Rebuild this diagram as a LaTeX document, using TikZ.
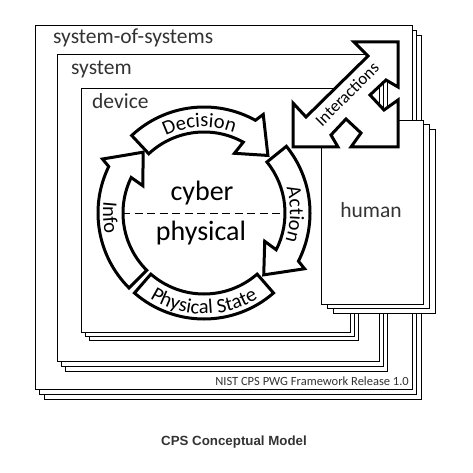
\documentclass[tikz,border=0pt]{standalone}
\usepackage{fontspec}
\setmainfont{Carlito}
\newfontfamily\capfont{Liberation Sans}
\usetikzlibrary{decorations.text}
\newcommand\arcfont{\fontsize{20.5}{20}\selectfont}

\begin{document}
\begin{tikzpicture}[x=1pt,y=1pt,every node/.style={inner sep=0pt},
  frame/.style={draw,fill=white,line width=1.1pt,anchor=north west},
  blk/.style={draw,fill=white,line width=3pt,line join=miter},
  lbl/.style={text=black!80,font=\fontsize{21.5}{24}\selectfont,anchor=base west},
  arclbl/.style={decorate,decoration={text along path,text align=center,text={|\arcfont|#1}}}]
\useasboundingbox (0,0) rectangle (472,-473);
% nested frames, two copies stacked behind each
\foreach \d/\e in {9/10,4/5,0/0}
  \node[frame,minimum width=377pt,minimum height=364pt] (sos\d) at (35+\d,-25-\e) {};
\foreach \d/\e in {8/10,4/5,0/0}
  \node[frame,minimum width=322pt,minimum height=307pt] (sys\d) at (57+\d,-54-\e) {};
\foreach \d in {8,4,0}
  \node[frame,minimum width=269pt,minimum height=244pt] (dev\d) at (81+\d,-88-\d) {};
% cyber/physical loop
\begin{scope}[shift={(204,-213)}]
\foreach \a/\t in {133/42,39/-46,225/135}
  \draw[blk] (\a:81) -- (\a:106) arc[start angle=\a,end angle=\t+19,radius=106] -- ({\t+17}:115) -- (\t:86) -- ({\t+21}:67) -- ({\t+19}:81) arc[start angle=\t+19,end angle=\a,radius=81] -- cycle;
\draw[blk] (-49:81) -- (-49:106) arc[start angle=-49,end angle=-131,radius=106] -- (-131:81) arc[start angle=-131,end angle=-49,radius=81] -- cycle;
\draw[line width=1pt,dash pattern=on 8pt off 4.5pt] (-82,0) -- (81,0);
\path[arclbl=Decision] (135:86) arc[start angle=135,end angle=51,radius=86];
\path[arclbl=Action] (39:86) arc[start angle=39,end angle=-41,radius=86];
\path[arclbl=Info] (153:101) arc[start angle=153,end angle=213,radius=101];
\path[arclbl=Physical State] (-130:101) arc[start angle=-130,end angle=-50,radius=101];
\node[font=\fontsize{28}{28}\selectfont,anchor=base] (cy) at (-2,13) {cyber};
\node[font=\fontsize{28}{28}\selectfont,anchor=base] (ph) at (-3,-27) {physical};
\end{scope}
% human, stacked
\foreach \d/\e in {12/9,6/4,0/0}
  \node[frame,minimum width=102pt,minimum height=184pt] (hum\d) at (321+\d,-120-\e) {};
\node[lbl,anchor=base] (huml) at (371,-217) {human};
% interactions arrow
\draw[blk] (293,-147) -- (293,-103) -- (306,-117) -- (368,-56) -- (354,-42) -- (398,-42) -- (398,-87) -- (386,-80) -- (370,-95) -- (384,-110) -- (398,-100) -- (398,-147) -- (351,-147) -- (361,-133) -- (346,-119) -- (331,-135) -- (338,-147) -- cycle;
\node[rotate=45,font=\fontsize{17}{17}\selectfont] (ia) at (347,-94) {Interactions};
\node[lbl] (sosl) at (53,-44) {system-of-systems};
\node[lbl] (sysl) at (71,-75) {system};
\node[lbl] (devl) at (92,-109) {device};
\node[text=black!80,font=\fontsize{12.5}{14}\selectfont,anchor=base east] (rel) at (409,-385) {NIST CPS PWG Framework Release 1.0};
\node[text=black!80,font=\capfont\bfseries\fontsize{13.3}{16}\selectfont,anchor=base] (cap) at (234,-445) {CPS Conceptual Model};
\end{tikzpicture}
\end{document}
